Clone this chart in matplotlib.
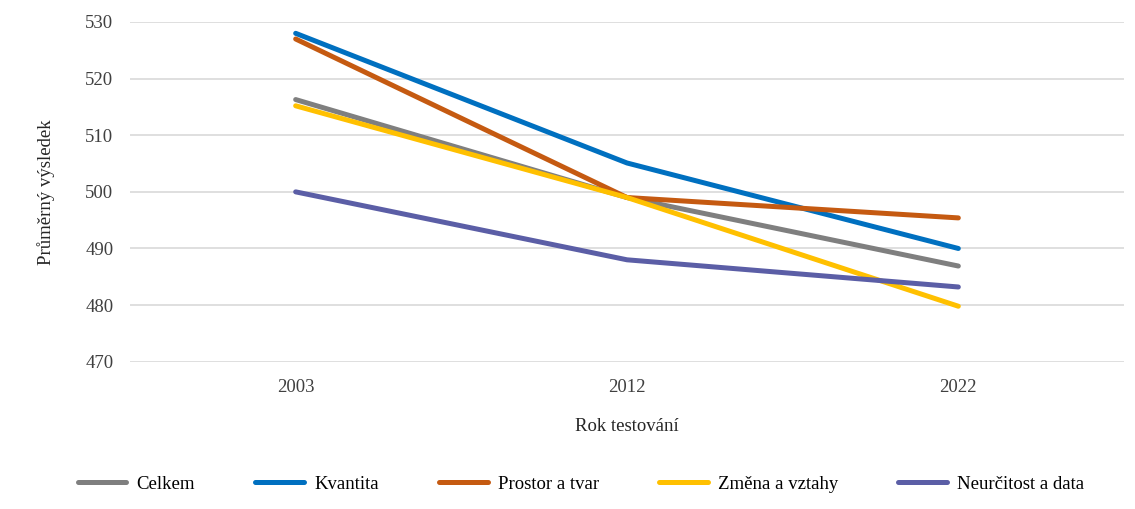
import matplotlib.pyplot as plt

roky = ["2003", "2012", "2022"]
celkem = [516.3, 499.0, 486.9]
kvantita = [528.0, 505.1, 490.0]
prostor = [527.0, 499.0, 495.4]
zmena = [515.2, 499.0, 479.8]
neurcitost = [500.0, 488.0, 483.2]

serie = [
    ("Celkem", celkem, "#7f7f7f"),
    ("Kvantita", kvantita, "#0070c0"),
    ("Prostor a tvar", prostor, "#c55a11"),
    ("Změna a vztahy", zmena, "#ffc000"),
    ("Neurčitost a data", neurcitost, "#5b5ea6"),
]

plt.rcParams['font.family'] = ['Liberation Serif', 'DejaVu Serif']

fig = plt.figure(figsize=(11.35, 5.09), dpi=100)
ax = fig.add_axes([130/1135, 1-362/509, (1124-130)/1135, (362-22)/509])

x = range(len(roky))
for nazev, hodnoty, barva in serie:
    ax.plot(x, hodnoty, color=barva, lw=3.6, label=nazev, solid_capstyle='round')

ax.set_xlim(-0.5, 2.5)
ax.set_ylim(469.95, 530)
ax.set_yticks(range(470, 531, 10))
ax.set_xticks(list(x))
ax.set_xticklabels(roky)
ax.grid(axis='y', color='#d9d9d9', lw=1.2)
ax.set_axisbelow(True)
for s in ax.spines.values():
    s.set_visible(False)
ax.tick_params(length=0, labelsize=13.5, colors='#404040')
ax.tick_params(axis='y', pad=12)
ax.tick_params(axis='x', pad=12)
ax.set_xlabel("Rok testování", fontsize=13.5, color='#262626', labelpad=16)
ax.set_ylabel("Průměrný výsledek", fontsize=13.5, color='#262626', labelpad=22)

fig.legend(loc='center', bbox_to_anchor=(0.512, 1-484/509), ncol=5, frameon=False,
           fontsize=13.5, handlelength=2.6, columnspacing=3.2, handletextpad=0.55)

fig.savefig("out.png", dpi=100)
